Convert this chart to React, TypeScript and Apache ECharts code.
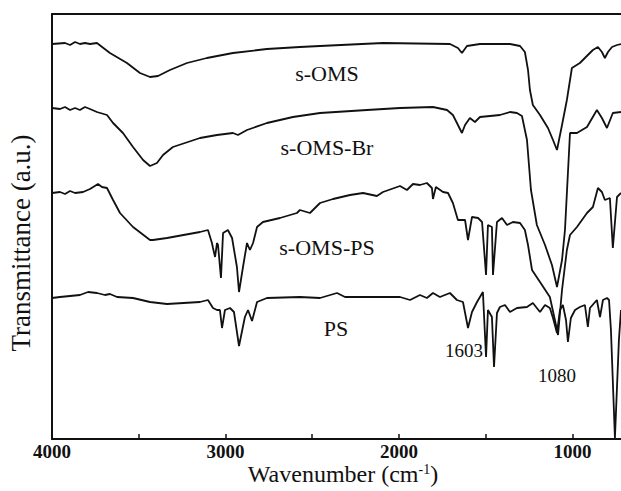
import React, { useEffect, useRef } from 'react';
import * as echarts from 'echarts';

// [wavenumber (cm^-1), transmittance (a.u.)]
const sOMS: [number, number][] = [
  [4000, 395], [3925, 396], [3896, 394], [3867, 397], [3839, 395], [3810, 396], [3781, 395], [3741, 396],
  [3666, 386], [3568, 376], [3493, 366], [3435, 362], [3389, 363], [3320, 369], [3222, 376], [3107, 381],
  [2957, 386], [2761, 390], [2571, 392], [2455, 393], [2092, 396], [1706, 395], [1660, 391], [1637, 386],
  [1608, 393], [1533, 395], [1360, 395], [1302, 393], [1274, 387], [1256, 369], [1245, 349], [1228, 334],
  [1187, 324], [1141, 311], [1112, 299], [1089, 289], [1060, 314], [1032, 339], [1003, 371], [957, 376],
  [911, 384], [882, 389], [853, 392], [830, 387], [813, 381], [795, 387], [772, 392], [743, 394], [720, 395],
];

const sOMSBr: [number, number][] = [
  [4000, 331], [3954, 330], [3925, 332], [3896, 329], [3867, 331], [3839, 329], [3810, 332], [3781, 330],
  [3741, 327], [3683, 324], [3648, 316], [3591, 306], [3533, 292], [3475, 279], [3435, 273], [3395, 276],
  [3360, 284], [3303, 292], [3147, 301], [3049, 304], [2957, 306], [2928, 304], [2876, 309], [2761, 316],
  [2611, 322], [2455, 326], [2184, 329], [1994, 331], [1804, 332], [1723, 329], [1689, 324], [1660, 314],
  [1637, 306], [1619, 314], [1591, 321], [1562, 317], [1533, 322], [1475, 323], [1418, 324], [1360, 327],
  [1320, 326], [1291, 323], [1262, 299], [1239, 249], [1205, 214], [1158, 194], [1118, 174], [1089, 152],
  [1060, 179], [1043, 209], [1014, 306], [974, 306], [916, 312], [859, 329], [830, 321], [801, 311],
  [767, 326], [720, 327],
];

const sOMSPS: [number, number][] = [
  [4000, 246], [3954, 247], [3925, 245], [3896, 248], [3867, 246], [3821, 247], [3781, 250], [3735, 255],
  [3712, 252], [3683, 251], [3648, 239], [3608, 226], [3533, 212], [3435, 199], [3418, 199], [3337, 201],
  [3147, 207], [3101, 209], [3078, 196], [3072, 191], [3060, 182], [3049, 196], [3043, 194], [3026, 161],
  [3014, 206], [2986, 209], [2962, 201], [2934, 172], [2922, 147], [2899, 172], [2876, 196], [2859, 189],
  [2841, 196], [2818, 212], [2784, 217], [2686, 221], [2588, 226], [2571, 229], [2513, 226], [2455, 236],
  [2380, 240], [2282, 244], [2207, 246], [2127, 243], [2092, 247], [1994, 253], [1954, 249], [1919, 255],
  [1879, 254], [1839, 256], [1810, 251], [1804, 240], [1787, 252], [1746, 247], [1717, 246], [1689, 236],
  [1660, 219], [1619, 219], [1602, 199], [1579, 222], [1544, 221], [1521, 217], [1498, 164], [1487, 214],
  [1464, 212], [1458, 164], [1435, 217], [1406, 221], [1377, 214], [1343, 217], [1302, 216], [1274, 209],
  [1256, 194], [1233, 169], [1187, 157], [1130, 142], [1101, 119], [1083, 104], [1060, 149], [1032, 189],
  [1014, 204], [974, 212], [916, 226], [882, 232], [853, 251], [830, 247], [813, 239], [784, 241],
  [767, 191], [743, 242], [720, 246],
];

const PS: [number, number][] = [
  [4000, 141], [3954, 142], [3896, 143], [3839, 144], [3792, 147], [3741, 146], [3695, 144], [3666, 145],
  [3625, 142], [3533, 141], [3435, 137], [3337, 135], [3147, 137], [3101, 139], [3072, 131], [3049, 129],
  [3032, 129], [3020, 111], [3003, 129], [2974, 131], [2951, 127], [2922, 93], [2888, 122], [2870, 129],
  [2847, 118], [2818, 137], [2761, 141], [2571, 142], [2455, 141], [2357, 146], [2311, 142], [2184, 142],
  [1994, 142], [1936, 139], [1879, 144], [1839, 141], [1804, 146], [1764, 142], [1706, 146], [1666, 139],
  [1631, 137], [1602, 111], [1579, 127], [1550, 137], [1516, 147], [1498, 82], [1487, 129], [1464, 122],
  [1452, 72], [1435, 126], [1418, 132], [1389, 134], [1360, 127], [1320, 131], [1262, 132], [1228, 136],
  [1187, 127], [1158, 134], [1130, 131], [1112, 121], [1089, 106], [1072, 129], [1055, 134], [1037, 119],
  [1026, 97], [1009, 121], [985, 129], [957, 132], [928, 134], [911, 112], [899, 131], [859, 139],
  [841, 122], [824, 139], [801, 141], [789, 139], [778, 109], [755, 1], [732, 99], [720, 129],
];

const TICK_VALUES = [4000, 3500, 3000, 2500, 2000, 1500, 1000];
const LABEL_VALUES = [4000, 3000, 2000, 1000];
const CURVE_LABELS = ['s-OMS', 's-OMS-Br', 's-OMS-PS', 'PS'];
const PEAK_LABELS = ['1603', '1080'];

export default function App() {
  const ref = useRef<HTMLDivElement>(null);
  useEffect(() => {
    const chart = echarts.init(ref.current!, null, { renderer: 'svg' });
    const font = 'Liberation Serif';
    const ink = '#111';
    const axisLine = { show: true, onZero: false, lineStyle: { color: ink, width: 2 } };
    const txt = (text: string, x: number, y: number, size: number) => ({
      type: 'text', x, y,
      style: { text, fontFamily: font, fontSize: size, fill: ink, align: 'center', verticalAlign: 'middle' },
    });
    chart.setOption({
      animation: false,
      backgroundColor: '#fff',
      grid: { left: 52, right: 0, top: 14, bottom: 52 },
      xAxis: [
        {
          type: 'value', inverse: true, min: 720, max: 4000, position: 'bottom',
          axisLine,
          axisTick: { show: true, inside: true, length: 5, customValues: TICK_VALUES, lineStyle: { color: ink, width: 1.5 } },
          axisLabel: {
            customValues: LABEL_VALUES, formatter: (v: number) => String(v),
            fontFamily: font, fontWeight: 'bold', fontSize: 19, color: ink, margin: 3,
          },
          splitLine: { show: false },
        },
        {
          type: 'value', inverse: true, min: 720, max: 4000, position: 'top',
          axisLine, axisTick: { show: false }, axisLabel: { show: false }, splitLine: { show: false },
        },
      ],
      yAxis: {
        type: 'value', min: 0, max: 425,
        axisLine, axisTick: { show: false }, axisLabel: { show: false }, splitLine: { show: false },
      },
      series: [sOMS, sOMSBr, sOMSPS, PS].map((d, i) => ({
        name: CURVE_LABELS[i], type: 'line', data: d, symbol: 'none', showSymbol: false,
        lineStyle: { color: ink, width: 1.8 }, xAxisIndex: 0,
      })),
      graphic: [
        txt(CURVE_LABELS[0], 327, 73, 22),
        txt(CURVE_LABELS[1], 327, 147, 22),
        txt(CURVE_LABELS[2], 327, 247, 22),
        txt(CURVE_LABELS[3], 336, 328, 22),
        txt(PEAK_LABELS[0], 464, 350, 19),
        txt(PEAK_LABELS[1], 557, 375, 19),
        {
          type: 'text', x: 343, y: 474,
          style: {
            text: 'Wavenumber (cm{sup|-1})', fontFamily: font, fontSize: 24, fill: ink,
            align: 'center', verticalAlign: 'middle',
            rich: { sup: { fontFamily: font, fontSize: 14, verticalAlign: 'top', fill: ink } },
          },
        },
        {
          type: 'text', x: 21, y: 243, rotation: Math.PI / 2,
          style: { text: 'Transmittance (a.u.)', fontFamily: font, fontSize: 27, fill: ink, align: 'center', verticalAlign: 'middle' },
        },
      ],
    });
    return () => chart.dispose();
  }, []);
  return <div ref={ref} style={{ position: 'fixed', left: 0, top: 0, width: 621, height: 491, background: '#fff' }} />;
}
